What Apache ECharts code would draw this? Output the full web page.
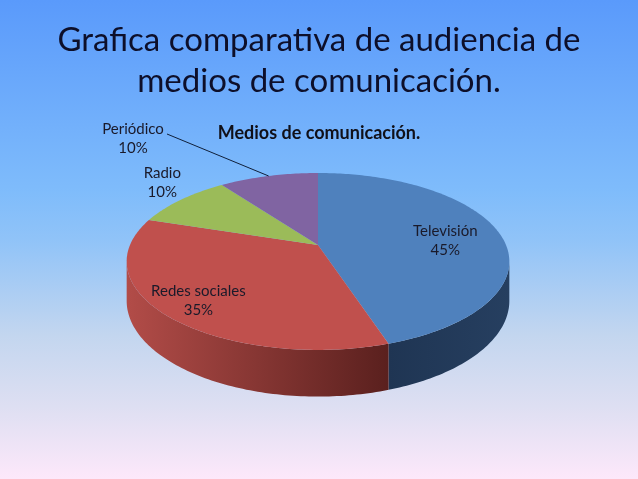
<!DOCTYPE html>
<html>
<head>
<meta charset="utf-8">
<script src="https://cdn.jsdelivr.net/npm/echarts@6/dist/echarts.min.js"></script>
<style>
  html, body { margin: 0; padding: 0; }
  #pie { width: 638px; height: 479px; }
</style>
</head>
<body>
<div id="pie"></div>
<script>
//数据
const categories = ['Televisión', 'Redes sociales', 'Radio', 'Periódico']
const values = [45, 35, 10, 10]
const topColors = ['#4f81bd', '#c0504d', '#9bbb59', '#8064a2']
const sideColors = [['#1f3553', '#263f60'], ['#b24c48', '#5a201e'], ['#7d9a40', '#5b7230'], ['#634c85', '#4a3765']]

//起始角度(累加)
const total = values.reduce((a, b) => a + b, 0)
const starts = []
let acc = 0
values.forEach(v => { starts.push(acc); acc += v })

//3D 饼图的透视参数
const cx = 318, cy = 245, rx = 188, ry = 85.4, k = 0.186, depth = 38

//把圆上的点投影到屏幕(带一点透视)
function project(r, deg, drop) {
  const a = deg * Math.PI / 180
  const x = r * Math.sin(a)
  const d = -r * Math.cos(a)
  const s = 1 / (1 - k * d)
  return [cx + rx * x * s, cy + ry * d * s + (drop || 0) * s]
}

//侧面可见的范围
const visMin = Math.acos(-k) * 180 / Math.PI
const visMax = 360 - visMin

function wallItem(params, api) {
  const a0 = api.value(1) / total * 360
  const a1 = a0 + api.value(0) / total * 360
  const lo = Math.max(a0, visMin), hi = Math.min(a1, visMax)
  if (hi <= lo) return null
  const pts = []
  for (let t = lo; t <= hi; t += 1) pts.push(project(1, t))
  pts.push(project(1, hi))
  for (let t = hi; t >= lo; t -= 1) pts.push(project(1, t, depth))
  pts.push(project(1, lo, depth))
  const c = sideColors[params.dataIndex]
  return {
    type: 'polygon',
    shape: { points: pts },
    style: {
      fill: new echarts.graphic.LinearGradient(0, 0, 1, 0, [
        { offset: 0, color: c[0] },
        { offset: 1, color: c[1] }
      ])
    }
  }
}

function topItem(params, api) {
  const i = params.dataIndex
  const a0 = api.value(1) / total * 360
  const a1 = a0 + api.value(0) / total * 360
  const pts = [project(0, 0)]
  for (let t = a0; t < a1; t += 1) pts.push(project(1, t))
  pts.push(project(1, a1))
  const mid = (a0 + a1) / 2
  const pct = Math.round(api.value(0) / total * 100) + '%'
  const children = [{
    type: 'polygon',
    shape: { points: pts },
    style: { fill: topColors[i] }
  }]
  //标签：大扇区放里面，小扇区放外面
  let lp
  if (api.value(0) / total > 0.2) {
    lp = project(0.75, mid)
    lp = [lp[0] - 9, lp[1] + 5]
  } else if (i === 2) {
    lp = project(1.22, mid)
    lp = [lp[0] + 8, lp[1] - 8]
  } else {
    //Periódico 用引导线
    const edge = project(1, mid)
    lp = [133, 139]
    children.push({
      type: 'line',
      shape: { x1: lp[0] + 34, y1: lp[1] - 5, x2: edge[0], y2: edge[1] },
      style: { stroke: '#10203a', lineWidth: 1 }
    })
  }
  children.push({
    type: 'text',
    x: lp[0], y: lp[1],
    style: {
      text: categories[i] + '\n' + pct,
      align: 'center',
      verticalAlign: 'middle',
      fill: '#1a1a2a',
      font: '15px Lato',
      lineHeight: 19
    }
  })
  return { type: 'group', children }
}

const myChart = echarts.init(document.getElementById('pie'))
const seriesData = values.map((v, i) => [v, starts[i]])
const option = {
  backgroundColor: new echarts.graphic.LinearGradient(0, 0, 0, 1, [
    { offset: 0, color: '#5a9afb' },
    { offset: 0.4, color: '#7fbcfb' },
    { offset: 0.5, color: '#90c3f8' },
    { offset: 0.7, color: '#c3d6ef' },
    { offset: 0.85, color: '#dedff2' },
    { offset: 1, color: '#fde8fa' }
  ]),
  title: [{
    text: 'Grafica comparativa de audiencia de\nmedios de comunicación.',
    left: 'center',
    top: 15,
    textStyle: {
      fontFamily: 'Lato',
      fontSize: 33,
      fontWeight: 'normal',
      color: '#0d0f2a',
      lineHeight: 41,
      align: 'center'
    }
  }, {
    text: 'Medios de comunicación.',
    left: 'center',
    top: 119,
    textStyle: {
      fontFamily: 'Lato',
      fontSize: 18,
      fontWeight: 'bold',
      color: '#101018'
    }
  }],
  series: [{
    type: 'custom',
    coordinateSystem: 'none',
    renderItem: wallItem,
    data: seriesData,
    silent: true,
    z: 1
  }, {
    type: 'custom',
    coordinateSystem: 'none',
    renderItem: topItem,
    data: seriesData,
    silent: true,
    z: 2
  }]
}
myChart.setOption(option)
</script>
</body>
</html>
